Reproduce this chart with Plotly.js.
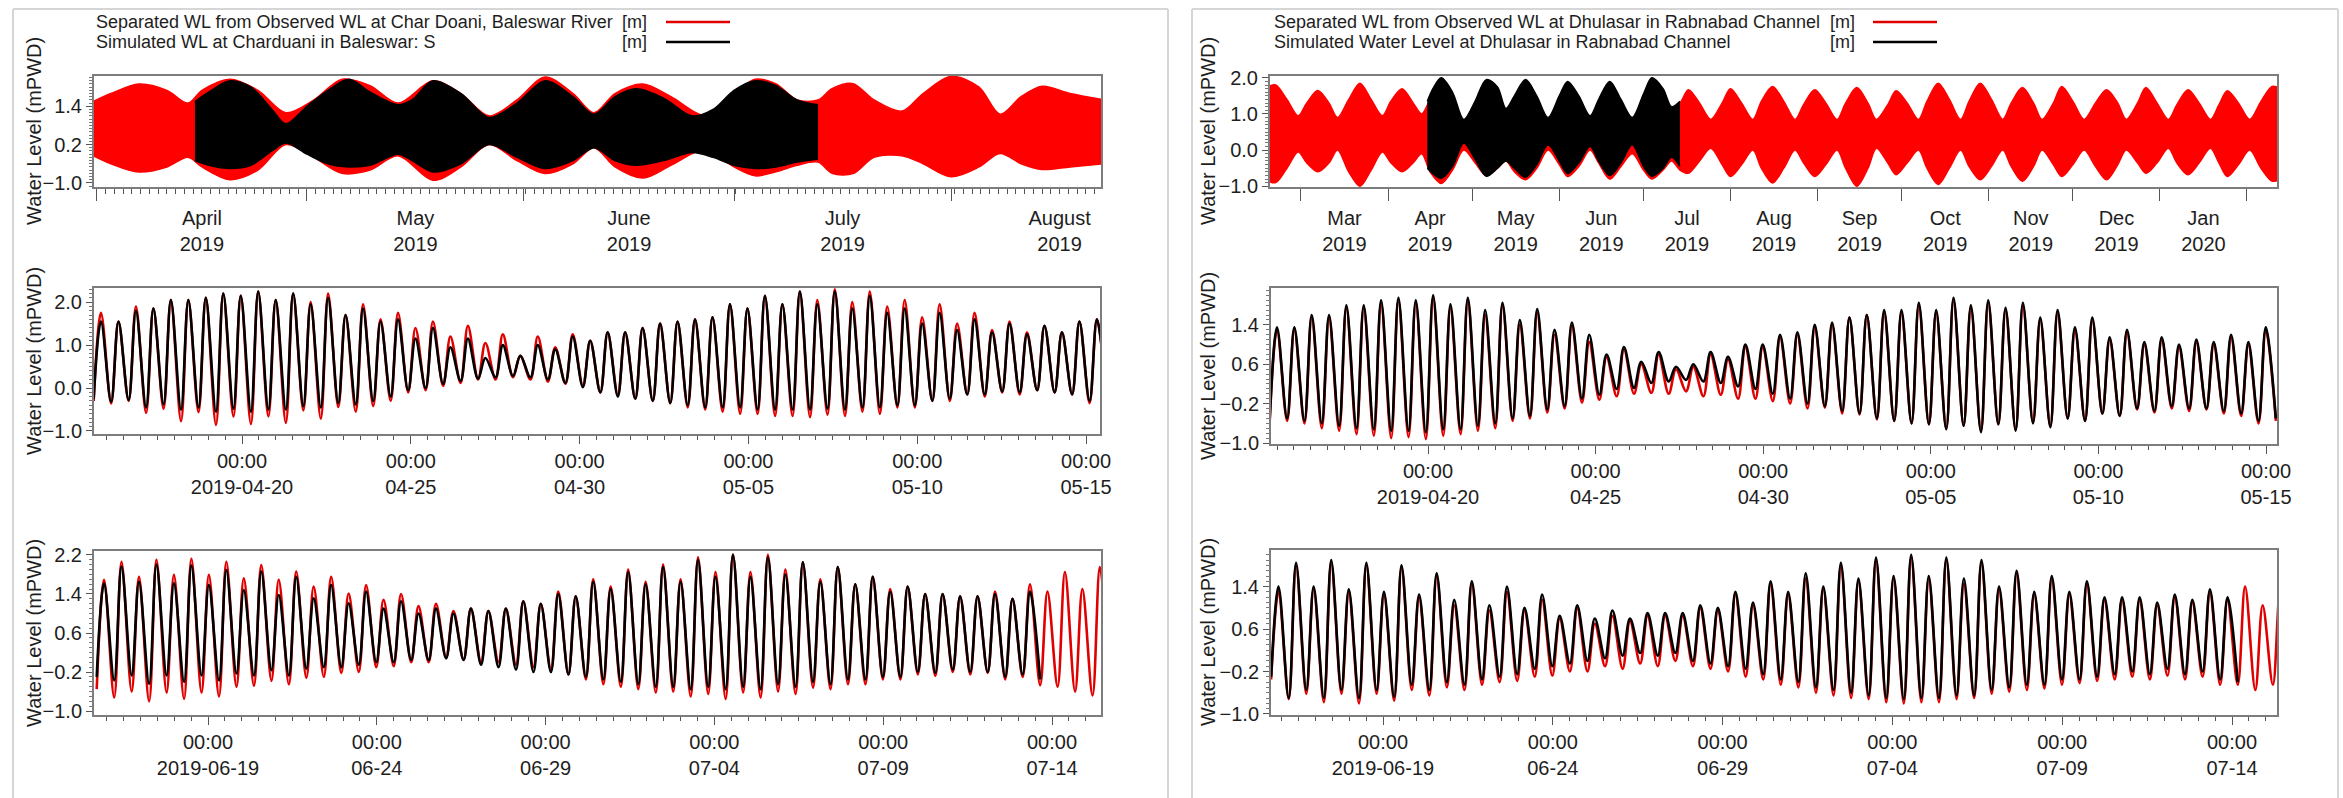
<!DOCTYPE html>
<html><head><meta charset="utf-8">
<script src="https://cdn.plot.ly/plotly-3.0.1.min.js"></script>
<style>html,body{margin:0;padding:0;background:#fff;} #chart{width:2343px;height:798px;}</style>
</head><body><div id="chart"></div>
<script>
// ---------------- DATA ----------------
// Overview, left station (Char Doani, Baleswar): envelope of the tide band
const olRedDates = ['2019-03-31','2019-04-03','2019-04-07','2019-04-11','2019-04-14','2019-04-16','2019-04-20','2019-04-24','2019-04-28','2019-05-02','2019-05-06','2019-05-10','2019-05-14','2019-05-19','2019-05-23','2019-05-27','2019-05-31','2019-06-04','2019-06-08','2019-06-11','2019-06-14','2019-06-18','2019-06-22','2019-06-27','2019-07-01','2019-07-04','2019-07-07','2019-07-10','2019-07-13','2019-07-15','2019-07-18','2019-07-21','2019-07-25','2019-07-28','2019-08-01','2019-08-05','2019-08-08','2019-08-11','2019-08-14','2019-08-18','2019-08-23'];
const olRedUpper = [1.5,1.8,2.1,1.9,1.5,1.9,2.25,1.9,1.2,1.6,2.25,2.05,1.5,2.2,1.8,1.1,1.6,2.32,1.8,1.2,1.8,2.1,1.7,1.1,1.8,2.25,2.1,1.6,1.6,1.95,2.11,1.6,1.25,1.8,2.34,2.0,1.15,1.7,2.03,1.8,1.6];
const olRedLower = [-0.1,-0.4,-0.66,-0.5,-0.2,-0.5,-0.9,-0.6,0.2,-0.2,-0.7,-0.6,-0.15,-0.92,-0.5,0.2,-0.3,-0.71,-0.4,0.1,-0.5,-0.85,-0.45,0.05,-0.5,-0.78,-0.65,-0.45,-0.35,-0.7,-0.71,-0.2,-0.15,-0.4,-0.81,-0.5,-0.08,-0.4,-0.58,-0.5,-0.4];
const olBlkDates = ['2019-04-15','2019-04-17','2019-04-20','2019-04-23','2019-04-26','2019-04-28','2019-05-01','2019-05-04','2019-05-07','2019-05-10','2019-05-14','2019-05-16','2019-05-19','2019-05-23','2019-05-27','2019-05-31','2019-06-04','2019-06-08','2019-06-11','2019-06-14','2019-06-17','2019-06-21','2019-06-25','2019-06-28','2019-07-01','2019-07-04','2019-07-07','2019-07-10','2019-07-13'];
const olBlkUpper = [1.55,1.85,2.2,2.0,1.3,0.85,1.4,1.9,2.25,1.85,1.45,1.6,2.2,1.8,1.05,1.5,2.2,1.7,1.15,1.7,1.95,1.65,1.1,1.3,1.9,2.2,2.05,1.6,1.45];
const olBlkLower = [-0.3,-0.45,-0.55,-0.45,0.0,0.25,-0.1,-0.4,-0.5,-0.45,-0.1,-0.3,-0.66,-0.4,0.2,-0.2,-0.55,-0.3,0.1,-0.3,-0.45,-0.3,-0.05,-0.2,-0.45,-0.55,-0.5,-0.35,-0.25];

// Overview, right station (Dhulasar, Rabnabad Channel)
const orRedDates = ['2019-02-17','2019-02-20','2019-02-24','2019-02-28','2019-03-03','2019-03-07','2019-03-11','2019-03-14','2019-03-18','2019-03-22',
 '2019-03-26','2019-03-30','2019-04-02','2019-04-06','2019-04-10','2019-04-13','2019-04-16','2019-04-20','2019-04-24','2019-04-28',
 '2019-05-02','2019-05-06','2019-05-10','2019-05-13','2019-05-16','2019-05-20','2019-05-24','2019-05-28','2019-06-01','2019-06-04',
 '2019-06-08','2019-06-12','2019-06-15','2019-06-19','2019-06-23','2019-06-27','2019-07-01','2019-07-04','2019-07-08','2019-07-11',
 '2019-07-14','2019-07-17','2019-07-21','2019-07-25','2019-07-29','2019-08-01','2019-08-05','2019-08-09','2019-08-12','2019-08-16',
 '2019-08-20','2019-08-24','2019-08-27','2019-08-31','2019-09-04','2019-09-08','2019-09-11','2019-09-15','2019-09-19','2019-09-22',
 '2019-09-26','2019-09-29','2019-10-03','2019-10-07','2019-10-10','2019-10-14','2019-10-18','2019-10-22','2019-10-25','2019-10-29',
 '2019-11-02','2019-11-06','2019-11-09','2019-11-13','2019-11-17','2019-11-20','2019-11-24','2019-11-27','2019-12-01','2019-12-05',
 '2019-12-09','2019-12-13','2019-12-17','2019-12-20','2019-12-24','2019-12-27','2019-12-31','2020-01-04','2020-01-07','2020-01-11',
 '2020-01-15','2020-01-19','2020-01-22','2020-01-25','2020-01-29','2020-02-02','2020-02-06','2020-02-10','2020-02-13'];
const orRedUpper = [1.75,1.8,1.4,0.95,1.3,1.65,1.3,0.9,1.4,1.85,
 1.4,0.95,1.35,1.7,1.3,1.0,1.4,1.9,1.5,0.7,
 1.3,1.9,1.6,1.1,1.4,1.85,1.4,0.85,1.4,1.85,
 1.45,0.9,1.3,1.85,1.35,0.85,1.5,1.95,1.65,1.15,
 1.3,1.67,1.3,0.85,1.3,1.7,1.3,0.85,1.35,1.76,
 1.35,0.85,1.25,1.67,1.3,0.85,1.3,1.73,1.3,0.85,
 1.25,1.64,1.3,0.85,1.35,1.85,1.4,0.85,1.35,1.85,
 1.4,0.85,1.3,1.73,1.3,0.85,1.3,1.76,1.35,0.85,
 1.3,1.67,1.3,0.85,1.3,1.73,1.3,0.85,1.25,1.67,
 1.3,0.85,1.25,1.64,1.3,0.85,1.35,1.76,1.7];
const orRedLower = [-0.85,-0.9,-0.5,-0.05,-0.35,-0.6,-0.35,0.0,-0.6,-1.0,
 -0.55,-0.05,-0.35,-0.6,-0.35,-0.1,-0.6,-0.92,-0.55,0.0,
 -0.35,-0.7,-0.5,-0.3,-0.6,-0.82,-0.5,0.0,-0.4,-0.73,
 -0.45,0.0,-0.35,-0.8,-0.45,-0.1,-0.55,-0.8,-0.55,-0.3,
 -0.55,-0.64,-0.3,0.05,-0.4,-0.73,-0.4,0.0,-0.5,-0.91,
 -0.5,0.0,-0.35,-0.73,-0.4,0.0,-0.5,-1.0,-0.5,0.05,
 -0.35,-0.68,-0.35,0.0,-0.5,-0.95,-0.5,0.0,-0.45,-0.82,
 -0.45,0.0,-0.45,-0.86,-0.45,0.0,-0.4,-0.73,-0.4,0.0,
 -0.45,-0.82,-0.4,0.0,-0.35,-0.64,-0.35,0.05,-0.35,-0.68,
 -0.35,0.05,-0.35,-0.73,-0.4,0.0,-0.5,-0.86,-0.8];
const orBlkDates = ['2019-04-15','2019-04-17','2019-04-20','2019-04-24','2019-04-28','2019-05-02','2019-05-06','2019-05-10','2019-05-13','2019-05-16',
 '2019-05-20','2019-05-24','2019-05-28','2019-06-01','2019-06-04','2019-06-08','2019-06-12','2019-06-15','2019-06-19','2019-06-23',
 '2019-06-27','2019-07-01','2019-07-04','2019-07-08','2019-07-11','2019-07-14'];
const orBlkUpper = [1.35,1.7,2.0,1.6,0.85,1.35,1.95,1.75,1.15,1.5,1.95,1.5,0.9,1.5,1.9,1.5,0.95,1.4,1.9,1.4,0.9,1.55,2.0,1.7,1.2,1.35];
const orBlkLower = [-0.5,-0.65,-0.78,-0.45,0.2,-0.25,-0.72,-0.5,-0.3,-0.5,-0.75,-0.4,0.15,-0.3,-0.65,-0.35,0.1,-0.3,-0.7,-0.35,0.15,-0.45,-0.72,-0.5,-0.2,-0.45];

// Detail panels: high-water and low-water values of each tide
// Left middle (Apr-May), first high water time
const lmFirstHigh = '2019-04-15 19:45';
const lmRedHigh = [1.75,1.55,1.9,1.85,2.05,2.05,2.1,2.2,2.15,2.25, 2.05,2.2,2.0,2.2,1.7,1.95,1.6,1.75,1.4,1.55, 1.2,1.45,1.05,1.25,0.75,1.2,0.95,1.25,1.1,1.3, 1.3,1.4,1.5,1.55,1.6,1.65,1.95,1.85,2.15,1.95, 2.25,2.05,2.3,2.0,2.25,1.9,2.05,1.65,1.95,1.5, 1.75,1.35,1.55,1.3,1.45,1.3,1.55,1.6];
const lmBlkHigh = [1.55,1.55,1.8,1.85,2.05,2.05,2.1,2.2,2.15,2.25, 2.05,2.2,1.95,2.1,1.7,1.85,1.55,1.6,1.15,1.4, 0.95,1.15,0.7,1.0,0.75,1.0,0.9,1.2,1.1,1.3, 1.3,1.4,1.5,1.55,1.6,1.65,1.95,1.85,2.15,1.95, 2.25,1.95,2.25,1.85,2.15,1.75,1.85,1.5,1.75,1.35, 1.6,1.3,1.5,1.25,1.45,1.3,1.55,1.6];
const lmRedLow = [-0.3,-0.36,-0.3,-0.58,-0.48,-0.77,-0.56,-0.86,-0.66,-0.84, -0.66,-0.81,-0.52,-0.71,-0.44,-0.55,-0.42,-0.3,-0.1,-0.05, 0.05,0.12,0.2,0.2,0.25,0.2,0.15,0.1,0.05,-0.1, -0.15,-0.25,-0.3,-0.35,-0.45,-0.5,-0.55,-0.6,-0.6,-0.65, -0.65,-0.68,-0.62,-0.65,-0.55,-0.6,-0.45,-0.45,-0.3,-0.3, -0.15,-0.2,-0.1,-0.15,-0.05,-0.1,-0.15,-0.35,-0.4];
const lmBlkLow = [-0.25,-0.32,-0.28,-0.45,-0.38,-0.5,-0.45,-0.55,-0.48,-0.55, -0.5,-0.5,-0.42,-0.45,-0.35,-0.38,-0.3,-0.2,-0.05,0.0, 0.1,0.17,0.22,0.25,0.28,0.25,0.2,0.12,0.02,-0.1, -0.2,-0.25,-0.3,-0.35,-0.4,-0.45,-0.45,-0.45,-0.5,-0.5, -0.5,-0.5,-0.48,-0.5,-0.45,-0.45,-0.4,-0.4,-0.3,-0.25, -0.15,-0.15,-0.08,-0.1,-0.05,-0.1,-0.15,-0.3,-0.35];

// Left bottom (Jun-Jul)
const lbFirstHigh = '2019-06-15 22:05';
const lbRedHigh = [1.69,2.06,1.75,2.1,1.79,2.12,1.79,2.06,1.72,1.99, 1.69,1.86,1.55,1.75,1.41,1.58,1.28,1.4,1.15,1.2, 1.05,1.1,1.05,1.1,1.25,1.2,1.45,1.35,1.7,1.55, 1.9,1.65,2.0,1.7,2.15,1.85,2.2,1.85,2.2,1.9, 2.05,1.7,1.95,1.6,1.75,1.5,1.55,1.4,1.4,1.35, 1.35,1.45,1.3,1.6,1.45,1.85,1.5,1.95];
const lbBlkHigh = [1.62,1.96,1.65,2.0,1.62,1.98,1.58,1.89,1.48,1.86, 1.38,1.75,1.31,1.58,1.21,1.45,1.1,1.25,1.0,1.1, 1.0,1.1,1.05,1.1,1.25,1.2,1.4,1.35,1.65,1.5, 1.85,1.6,1.95,1.65,2.1,1.75,2.2,1.75,2.15,1.8, 2.05,1.65,1.95,1.6,1.75,1.45,1.55,1.4,1.4,1.35, 1.35,1.4,1.3,1.45];
const lbRedLow = [-0.55,-0.72,-0.6,-0.8,-0.62,-0.75,-0.62,-0.7,-0.5,-0.48, -0.38,-0.45,-0.32,-0.3,-0.22,-0.2,-0.1,-0.08,0.0,0.0, 0.1,0.05,0.0,0.0,-0.05,-0.1,-0.15,-0.25,-0.35,-0.45, -0.5,-0.55,-0.62,-0.6,-0.7,-0.65,-0.75,-0.62,-0.72,-0.6, -0.65,-0.52,-0.55,-0.45,-0.45,-0.35,-0.35,-0.25,-0.28,-0.2, -0.25,-0.22,-0.35,-0.3,-0.47,-0.5,-0.6,-0.68,-0.75];
const lbBlkLow = [-0.3,-0.37,-0.27,-0.44,-0.27,-0.4,-0.27,-0.37,-0.23,-0.27, -0.16,-0.27,-0.13,-0.1,-0.1,-0.05,0.0,0.0,0.05,0.05, 0.08,0.05,-0.05,-0.1,-0.15,-0.2,-0.2,-0.25,-0.3,-0.35, -0.4,-0.45,-0.5,-0.5,-0.55,-0.5,-0.55,-0.5,-0.55,-0.45, -0.5,-0.4,-0.45,-0.35,-0.35,-0.3,-0.3,-0.2,-0.22,-0.15, -0.2,-0.2,-0.3,-0.25,-0.35];

// Right middle (Apr-May)
const rmFirstHigh = '2019-04-15 11:53';
const rmRedHigh = [1.3,1.3,1.55,1.55,1.75,1.75,1.85,1.9,1.85,1.95, 1.75,1.9,1.6,1.8,1.4,1.65,1.2,1.38,1.05,0.75, 0.9,0.6,0.8,0.5,0.55,0.8,0.7,0.95,0.95,1.15, 1.2,1.35,1.4,1.55,1.6,1.65,1.65,1.8,1.65,1.9, 1.75,1.85,1.7,1.8,1.5,1.65,1.3,1.5,1.1,1.25, 1.0,1.1,0.95,1.05,1.0,1.15,1.0,1.3];
const rmBlkHigh = [1.35,1.35,1.6,1.6,1.8,1.8,1.9,1.95,1.9,2.0, 1.82,1.95,1.7,1.85,1.5,1.72,1.3,1.45,1.2,0.8, 0.95,0.65,0.85,0.55,0.6,0.85,0.75,1.0,1.0,1.2, 1.25,1.4,1.45,1.55,1.6,1.7,1.7,1.85,1.7,1.95, 1.8,1.9,1.75,1.85,1.55,1.7,1.35,1.55,1.15,1.3, 1.05,1.15,1.0,1.1,1.05,1.2,1.05,1.35];
const rmRedLow = [-0.55,-0.55,-0.6,-0.7,-0.75,-0.82,-0.85,-0.9,-0.88,-0.92, -0.85,-0.82,-0.75,-0.7,-0.55,-0.5,-0.38,-0.3,-0.18,-0.12, -0.05,0.0,0.02,0.0,0.05,-0.05,-0.02,-0.1,-0.1,-0.15, -0.2,-0.3,-0.28,-0.4,-0.42,-0.52,-0.55,-0.6,-0.62,-0.7, -0.65,-0.75,-0.62,-0.72,-0.58,-0.65,-0.5,-0.55,-0.4,-0.45, -0.32,-0.38,-0.3,-0.35,-0.32,-0.4,-0.45,-0.6,-0.55];
const rmBlkLow = [-0.5,-0.5,-0.55,-0.6,-0.65,-0.7,-0.72,-0.75,-0.75,-0.78, -0.72,-0.72,-0.65,-0.6,-0.5,-0.45,-0.32,-0.25,-0.1,-0.02, 0.1,0.12,0.22,0.25,0.28,0.25,0.22,0.15,0.1,0.0, -0.1,-0.2,-0.25,-0.35,-0.4,-0.5,-0.55,-0.6,-0.62,-0.72, -0.65,-0.78,-0.62,-0.75,-0.6,-0.68,-0.5,-0.55,-0.4,-0.45, -0.3,-0.35,-0.25,-0.3,-0.3,-0.35,-0.4,-0.55,-0.5];

// Right bottom (Jun-Jul)
const rbFirstHigh = '2019-06-15 22:09';
const rbRedHigh = [1.3,1.8,1.35,1.85,1.3,1.8,1.25,1.75,1.2,1.6, 1.05,1.45,0.95,1.3,0.95,1.15,0.8,1.0,0.7,0.85, 0.75,0.85,0.85,0.85,1.0,0.95,1.25,1.05,1.45,1.25, 1.55,1.35,1.8,1.5,1.9,1.55,1.95,1.55,1.9,1.45, 1.85,1.35,1.65,1.25,1.55,1.25,1.45,1.15,1.15,1.15, 1.05,1.2,1.1,1.3,1.15,1.4,1.05,1.35];
const rbBlkHigh = [1.4,1.85,1.4,1.9,1.35,1.85,1.3,1.8,1.25,1.65, 1.15,1.5,1.05,1.4,1.0,1.25,0.85,1.05,0.8,0.95, 0.8,0.9,0.9,0.9,1.05,1.0,1.3,1.1,1.5,1.3, 1.65,1.4,1.85,1.55,1.95,1.6,2.0,1.6,1.95,1.55, 1.9,1.4,1.7,1.3,1.6,1.3,1.5,1.2,1.2,1.2, 1.1,1.25,1.15,1.35,1.2];
const rbRedLow = [-0.35,-0.72,-0.62,-0.78,-0.62,-0.8,-0.62,-0.75,-0.55,-0.65, -0.5,-0.55,-0.45,-0.4,-0.38,-0.3,-0.28,-0.2,-0.2,-0.1, -0.15,-0.05,-0.1,0.0,-0.1,-0.15,-0.2,-0.3,-0.35,-0.45, -0.5,-0.6,-0.65,-0.7,-0.72,-0.78,-0.8,-0.78,-0.78,-0.72, -0.7,-0.62,-0.58,-0.55,-0.52,-0.45,-0.42,-0.38,-0.35,-0.3, -0.35,-0.28,-0.35,-0.3,-0.45,-0.45,-0.55,-0.45,-0.65];
const rbBlkLow = [-0.3,-0.7,-0.55,-0.7,-0.55,-0.7,-0.55,-0.68,-0.45,-0.55, -0.4,-0.45,-0.35,-0.3,-0.25,-0.15,-0.1,-0.05,0.0,0.05, 0.1,0.15,0.1,0.15,0.0,-0.05,-0.1,-0.15,-0.25,-0.35, -0.4,-0.5,-0.55,-0.6,-0.65,-0.7,-0.72,-0.7,-0.7,-0.65, -0.65,-0.55,-0.5,-0.45,-0.45,-0.35,-0.35,-0.3,-0.25,-0.2, -0.25,-0.15,-0.25,-0.2,-0.35,-0.4];

// Tick labels for the detail panels
const amTickVals = ['2019-04-20','2019-04-25','2019-04-30','2019-05-05','2019-05-10','2019-05-15'];
const amTickText = ['00:00<br>2019-04-20','00:00<br>04-25','00:00<br>04-30','00:00<br>05-05','00:00<br>05-10','00:00<br>05-15'];
const jjTickVals = ['2019-06-19','2019-06-24','2019-06-29','2019-07-04','2019-07-09','2019-07-14'];
const jjTickText = ['00:00<br>2019-06-19','00:00<br>06-24','00:00<br>06-29','00:00<br>07-04','00:00<br>07-09','00:00<br>07-14'];

const legendLeft = ['Separated WL from Observed WL at Char Doani, Baleswar River','Simulated WL at Charduani in Baleswar: S'];
const legendRight = ['Separated WL from Observed WL at Dhulasar in Rabnabad Channel','Simulated Water Level at Dhulasar in Rabnabad Channel'];
const unitText = '[m]';
const yTitle = 'Water Level (mPWD)';

// Tidal timing (semi-diurnal period and rise duration, hours)
const TIDE_PERIOD_H = 12.42;
const TIDE_RISE_H = 5.2;

// ---------------- BUILD ----------------
const W = 2343, HT = 798;
const FONT = 'Liberation Sans, Arial, sans-serif';
const RED = '#ff0000', RED_LINE = '#e00000', BLACK = '#000000';

function toMs(s){ const p = s.split(' '); const d = p[0].split('-').map(Number); const t = (p[1]||'00:00').split(':').map(Number); return Date.UTC(d[0], d[1]-1, d[2], t[0], t[1]); }
function toStr(ms){ return new Date(ms).toISOString().replace('T',' ').slice(0,19); }

function tideSeries(firstHigh, highs, lows){
  const t0 = toMs(firstHigh), P = TIDE_PERIOD_H*3600000, R = TIDE_RISE_H*3600000;
  const x = [], y = [];
  const n = Math.max(highs.length, lows.length);
  for (let i = 0; i < n; i++){
    if (i < lows.length){ x.push(toStr(t0 + i*P - R)); y.push(lows[i]); }
    if (i < highs.length){ x.push(toStr(t0 + i*P)); y.push(highs[i]); }
  }
  return {x, y};
}

function band(dates, upper, lower, color, xa, ya){
  return [
    {x: dates, y: lower, xaxis: xa, yaxis: ya, type: 'scatter', mode: 'lines', line: {color: color, width: 1.5, shape: 'spline', smoothing: 0.9}, hoverinfo: 'skip', showlegend: false},
    {x: dates, y: upper, xaxis: xa, yaxis: ya, type: 'scatter', mode: 'lines', fill: 'tonexty', fillcolor: color, line: {color: color, width: 1.5, shape: 'spline', smoothing: 0.9}, hoverinfo: 'skip', showlegend: false}
  ];
}

function tideTrace(s, color, xa, ya){
  return {x: s.x, y: s.y, xaxis: xa, yaxis: ya, type: 'scatter', mode: 'lines', line: {color: color, width: 2.6, shape: 'spline', smoothing: 1}, hoverinfo: 'skip', showlegend: false};
}

const data = [].concat(
  band(olRedDates, olRedUpper, olRedLower, RED, 'x', 'y'),
  band(olBlkDates, olBlkUpper, olBlkLower, BLACK, 'x', 'y'),
  [tideTrace(tideSeries(lmFirstHigh, lmRedHigh, lmRedLow), RED_LINE, 'x2', 'y2'),
   tideTrace(tideSeries(lmFirstHigh, lmBlkHigh, lmBlkLow), BLACK, 'x2', 'y2'),
   tideTrace(tideSeries(lbFirstHigh, lbRedHigh, lbRedLow), RED_LINE, 'x3', 'y3'),
   tideTrace(tideSeries(lbFirstHigh, lbBlkHigh, lbBlkLow), BLACK, 'x3', 'y3')],
  band(orRedDates, orRedUpper, orRedLower, RED, 'x4', 'y4'),
  band(orBlkDates, orBlkUpper, orBlkLower, BLACK, 'x4', 'y4'),
  [tideTrace(tideSeries(rmFirstHigh, rmRedHigh, rmRedLow), RED_LINE, 'x5', 'y5'),
   tideTrace(tideSeries(rmFirstHigh, rmBlkHigh, rmBlkLow), BLACK, 'x5', 'y5'),
   tideTrace(tideSeries(rbFirstHigh, rbRedHigh, rbRedLow), RED_LINE, 'x6', 'y6'),
   tideTrace(tideSeries(rbFirstHigh, rbBlkHigh, rbBlkLow), BLACK, 'x6', 'y6')]
);

const dx = (a, b) => [a/W, b/W];
const dy = (top, bottom) => [1 - bottom/HT, 1 - top/HT];

const base = {showline: true, mirror: true, linecolor: '#7d7d7d', linewidth: 2, ticks: 'outside', tickcolor: '#555', tickwidth: 1,
  showgrid: false, zeroline: false, fixedrange: true, tickfont: {family: FONT, size: 20, color: '#1e1e1e'}};

function yAx(domain, range, dtick, anchor){
  return Object.assign({}, base, {domain: domain, range: range, anchor: anchor, tickmode: 'linear', tick0: -1, dtick: dtick, tickformat: '.1f', ticklen: 6,
    minor: {dtick: 0.1, tick0: -1, ticks: 'outside', ticklen: 3, tickcolor: '#777', tickwidth: 1}});
}
function xDetail(domain, range, vals, text, anchor){
  return Object.assign({}, base, {domain: domain, type: 'date', range: range, anchor: anchor, tickmode: 'array', tickvals: vals, ticktext: text, ticklen: 8,
    minor: {tickmode: 'linear', dtick: 12*3600000, tick0: vals[0], ticks: 'outside', ticklen: 4, tickcolor: '#555', tickwidth: 1}});
}
function xOverview(domain, range, fmt, anchor, withMinor){
  const ax = Object.assign({}, base, {domain: domain, type: 'date', range: range, anchor: anchor, tickmode: 'linear', tick0: '2019-01-01', dtick: 'M1',
    tickformat: fmt, ticklabelmode: 'period', ticklen: 12});
  if (withMinor) ax.minor = {tickmode: 'linear', dtick: 1.25*86400000, tick0: '2019-04-01', ticks: 'outside', ticklen: 5, tickcolor: '#555', tickwidth: 1};
  return ax;
}

const layout = {
  width: W, height: HT, margin: {l: 0, r: 0, t: 0, b: 0}, paper_bgcolor: '#fff', plot_bgcolor: '#fff', showlegend: false,
  font: {family: FONT, color: '#1e1e1e'},
  xaxis:  xOverview(dx(94, 1101), ['2019-03-31 14:00', '2019-08-22 10:00'], '%B<br>%Y', 'y', true),
  yaxis:  yAx(dy(76, 187), [-1.13, 2.35], 1.2, 'x'),
  xaxis2: xDetail(dx(94, 1100), ['2019-04-15 14:47', '2019-05-15 09:54'], amTickVals, amTickText, 'y2'),
  yaxis2: yAx(dy(288, 434), [-1.07, 2.33], 1.0, 'x2'),
  xaxis3: xDetail(dx(94, 1101), ['2019-06-15 14:57', '2019-07-15 10:50'], jjTickVals, jjTickText, 'y3'),
  yaxis3: yAx(dy(551, 715), [-1.08, 2.28], 0.8, 'x3'),
  xaxis4: xOverview(dx(1270, 2277), ['2019-02-17 23:00', '2020-02-11 17:00'], '%b<br>%Y', 'y4', false),
  yaxis4: yAx(dy(76, 187), [-1.02, 2.05], 1.0, 'x4'),
  xaxis5: xDetail(dx(1271, 2277), ['2019-04-15 07:35', '2019-05-15 07:52'], amTickVals, amTickText, 'y5'),
  yaxis5: yAx(dy(288, 444), [-1.02, 2.15], 0.8, 'x5'),
  xaxis6: xDetail(dx(1271, 2277), ['2019-06-15 16:51', '2019-07-15 07:48'], jjTickVals, jjTickText, 'y6'),
  yaxis6: yAx(dy(550, 715), [-1.02, 2.09], 0.8, 'x6'),
  annotations: [],
  shapes: []
};

// panel frames
const frame = {type: 'line', xref: 'paper', yref: 'paper', layer: 'below', line: {color: '#d6d6d6', width: 2}};
[[13, 1168], [1192, 2338]].forEach(([a, b]) => {
  layout.shapes.push(Object.assign({}, frame, {x0: a/W, x1: b/W, y0: 1 - 9/HT, y1: 1 - 9/HT}));
  layout.shapes.push(Object.assign({}, frame, {x0: a/W, x1: a/W, y0: 1 - 9/HT, y1: -0.01}));
  layout.shapes.push(Object.assign({}, frame, {x0: b/W, x1: b/W, y0: 1 - 9/HT, y1: -0.01}));
});

// legends
function legend(x0, unitRight, lineX0, lineX1, names){
  const rows = [22, 42], colors = [RED_LINE, BLACK];
  names.forEach((nm, i) => {
    layout.annotations.push({xref: 'paper', yref: 'paper', x: x0/W, y: 1 - rows[i]/HT, xanchor: 'left', yanchor: 'middle', showarrow: false,
      text: nm, font: {family: FONT, size: 18, color: '#1e1e1e'}});
    layout.annotations.push({xref: 'paper', yref: 'paper', x: unitRight/W, y: 1 - rows[i]/HT, xanchor: 'right', yanchor: 'middle', showarrow: false,
      text: unitText, font: {family: FONT, size: 18, color: '#1e1e1e'}});
    layout.shapes.push({type: 'line', xref: 'paper', yref: 'paper', x0: lineX0/W, x1: lineX1/W, y0: 1 - rows[i]/HT, y1: 1 - rows[i]/HT,
      line: {color: colors[i], width: 2.5}});
  });
}
legend(94, 649, 666, 730, legendLeft);
legend(1272, 1857, 1873, 1937, legendRight);

// y titles
[[34, 131], [34, 361], [34, 633], [1208, 131], [1208, 366], [1208, 632]].forEach(([x, y]) => {
  layout.annotations.push({xref: 'paper', yref: 'paper', x: x/W, y: 1 - y/HT, xanchor: 'center', yanchor: 'middle', showarrow: false,
    textangle: -90, text: yTitle, font: {family: FONT, size: 20, color: '#1e1e1e'}});
});

Plotly.newPlot('chart', data, layout, {displayModeBar: false, staticPlot: true});
</script></body></html>
